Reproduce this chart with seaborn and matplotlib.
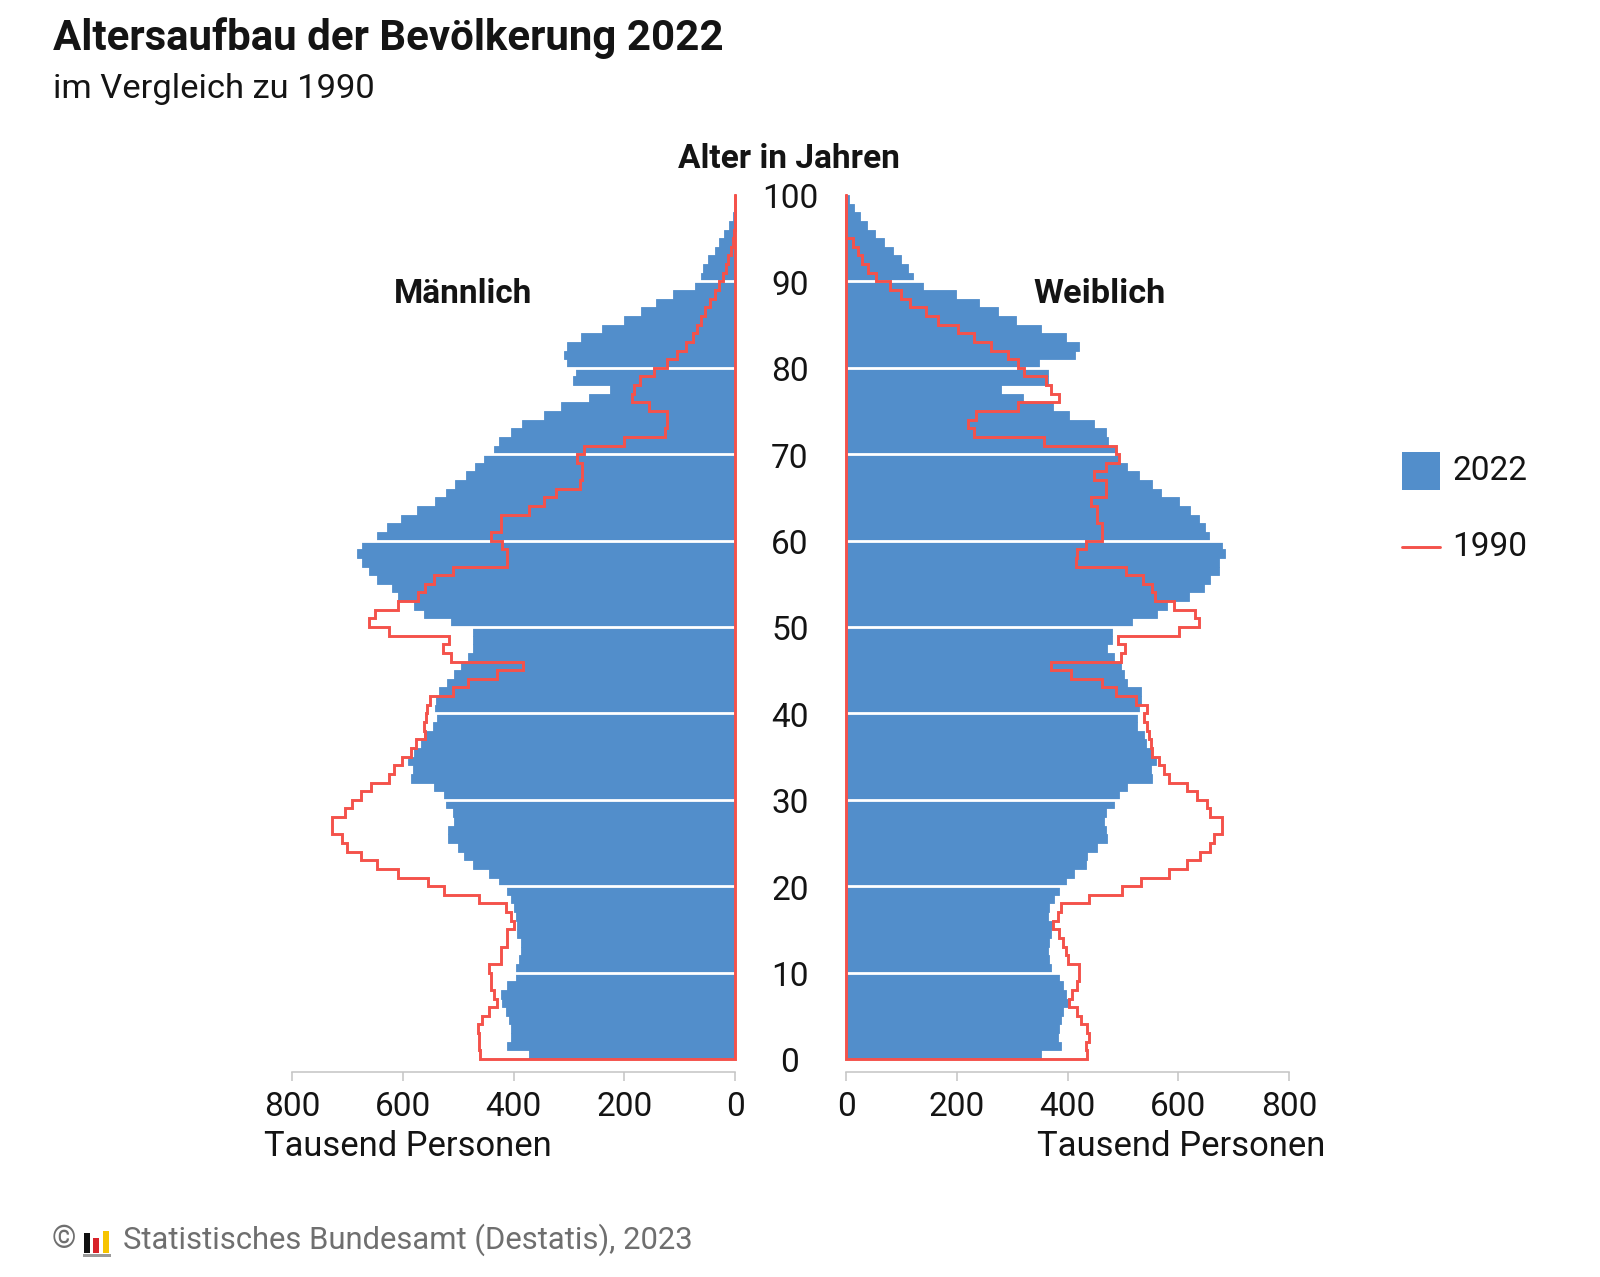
import numpy as np
import pandas as pd
import matplotlib
matplotlib.use("Agg")
import matplotlib.pyplot as plt
import matplotlib.transforms as mtransforms
from matplotlib.patches import Rectangle
from matplotlib.lines import Line2D
import seaborn as sns

# ---------------- data (thousand persons, ages 0..99) ----------------
ages = list(range(100))

male_2022 = [372, 411, 405, 405, 408, 414, 420, 423, 411, 396,
             396, 390, 387, 387, 393, 393, 396, 399, 405, 411,
             426, 444, 474, 489, 501, 519, 519, 508, 510, 522,
             525, 543, 585, 582, 591, 579, 567, 561, 546, 538,
             542, 540, 534, 520, 507, 495, 483, 474, 474, 474,
             513, 562, 579, 608, 620, 647, 661, 674, 683, 674,
             646, 628, 604, 575, 541, 522, 505, 485, 470, 453,
             435, 426, 405, 384, 345, 315, 264, 225, 292, 288,
             303, 308, 303, 279, 240, 200, 170, 142, 112, 73,
             61, 58, 49, 37, 28, 19, 10, 4, 2, 1]

male_1990 = [461, 462, 462, 465, 456, 444, 430, 435, 440, 440,
             444, 423, 423, 411, 411, 400, 405, 414, 462, 525,
             555, 609, 647, 675, 701, 710, 728, 728, 705, 692,
             675, 657, 624, 615, 601, 585, 576, 560, 561, 558,
             556, 550, 510, 483, 430, 382, 513, 527, 516, 624,
             661, 650, 609, 573, 559, 543, 510, 412, 412, 420,
             441, 423, 423, 372, 345, 324, 280, 276, 276, 285,
             273, 201, 126, 123, 123, 156, 186, 183, 171, 147,
             123, 105, 89, 76, 68, 62, 54, 46, 37, 28,
             22, 16, 13, 8, 4, 2, 0, 0, 0, 0]

female_2022 = [352, 388, 382, 385, 388, 391, 400, 397, 391, 385,
               370, 367, 364, 367, 370, 373, 364, 367, 376, 385,
               397, 412, 433, 436, 454, 472, 469, 466, 469, 484,
               493, 508, 553, 550, 559, 550, 541, 538, 526, 526,
               529, 532, 532, 508, 502, 496, 484, 472, 481, 481,
               517, 562, 580, 619, 646, 658, 673, 673, 685, 679,
               655, 649, 637, 622, 601, 568, 553, 530, 508, 493,
               487, 474, 469, 448, 402, 373, 320, 280, 364, 364,
               348, 414, 421, 397, 352, 307, 274, 240, 199, 139,
               121, 112, 100, 85, 68, 52, 38, 25, 14, 6]

female_1990 = [436, 433, 439, 436, 424, 418, 403, 409, 418, 420,
               421, 400, 397, 391, 385, 373, 382, 388, 439, 499,
               532, 583, 616, 640, 658, 664, 679, 679, 658, 652,
               634, 616, 583, 574, 565, 553, 550, 547, 544, 538,
               544, 523, 487, 463, 406, 370, 496, 504, 492, 601,
               637, 631, 592, 558, 552, 536, 505, 415, 418, 433,
               463, 463, 454, 454, 442, 469, 469, 448, 469, 493,
               487, 358, 232, 220, 235, 310, 385, 370, 361, 322,
               310, 292, 262, 232, 202, 166, 145, 115, 100, 79,
               55, 40, 28, 22, 13, 0, 0, 0, 0, 0]

x_ticks = [0, 200, 400, 600, 800]
x_tick_labels = ["0", "200", "400", "600", "800"]
age_ticks = [0, 10, 20, 30, 40, 50, 60, 70, 80, 90, 100]

title = "Altersaufbau der Bevölkerung 2022"
subtitle = "im Vergleich zu 1990"
source = "Statistisches Bundesamt (Destatis), 2023"

# ---------------- style ----------------
BLUE = "#528ecb"
RED = "#f4524b"
GRAY_AX = "#c4c4c4"
TXT = "#141414"

sns.set_theme(style="white")
plt.rcParams["font.family"] = ["Roboto", "DejaVu Sans"]

W, H = 1600, 1277
fig = plt.figure(figsize=(W / 100, H / 100), dpi=100)


def fx(x):
    return x / W


def fy(y):
    return 1 - y / H


AX_TOP, AX_BOT = 195, 1059
axL = fig.add_axes([fx(292), fy(AX_BOT), fx(735) - fx(292), fy(AX_TOP) - fy(AX_BOT)])
axR = fig.add_axes([fx(846), fy(AX_BOT), fx(1289) - fx(846), fy(AX_TOP) - fy(AX_BOT)])

df = pd.DataFrame({
    "age": ages,
    "center": np.array(ages) + 0.5,
    "m2022": male_2022,
    "m1990": male_1990,
    "f2022": female_2022,
    "f1990": female_1990,
})


def step_path(vals):
    xs, ys = [0, 0], [100, 0]
    for a, v in zip(ages, vals):
        xs += [v, v]
        ys += [a, a + 1]
    xs.append(0)
    ys.append(100)
    return xs, ys


for ax, col22, col90, xlim in [(axL, "m2022", "m1990", (800, 0)),
                                (axR, "f2022", "f1990", (0, 800))]:
    sns.barplot(data=df, x=col22, y="center", orient="y", native_scale=True,
                width=1.0, color=BLUE, saturation=1, errorbar=None,
                linewidth=0.6, edgecolor=BLUE, ax=ax, zorder=1)
    for k in age_ticks[1:-1]:
        ax.axhline(k, color="white", lw=2.0, zorder=2)
    xs, ys = step_path(df[col90].tolist())
    sns.lineplot(x=xs, y=ys, sort=False, estimator=None, color=RED,
                 linewidth=2.1, ax=ax, legend=False, zorder=3)
    for ln in ax.lines[-1:]:
        ln.set_clip_on(False)
        ln.set_solid_joinstyle("miter")
    ax.set_xlim(*xlim)
    ax.set_ylim(0, 100)
    ax.set_yticks([])
    ax.set_xlabel("")
    ax.set_ylabel("")
    ax.set_facecolor("none")
    for s in ["left", "right", "top"]:
        ax.spines[s].set_visible(False)
    ax.spines["bottom"].set_position(("outward", 9.4))
    ax.spines["bottom"].set_color(GRAY_AX)
    ax.spines["bottom"].set_linewidth(1.1)
    ax.set_xticks(x_ticks)
    ax.set_xticklabels(x_tick_labels)
    ax.tick_params(axis="x", bottom=True, direction="out", length=6.5,
                   width=1.1, color=GRAY_AX, labelsize=24, pad=7,
                   labelcolor=TXT)

# age labels in the middle
trans = mtransforms.blended_transform_factory(fig.transFigure, axR.transData)
for k in age_ticks:
    axR.text(fx(790), k - 0.5, str(k), transform=trans, ha="center", va="center",
             fontsize=24, color=TXT, clip_on=False)

renderer = fig.canvas.get_renderer()


def fit(t, width_px):
    w = t.get_window_extent(renderer).width
    t.set_fontsize(t.get_fontsize() * width_px / w)


def put(x, y, s, width=None, size=20, weight="normal", ha="left",
        color=TXT, va="center"):
    t = fig.text(fx(x), fy(y), s, fontsize=size, fontweight=weight,
                 ha=ha, va=va, color=color)
    if width:
        fit(t, width)
    return t


put(53, 38, title, width=669, size=30, weight="bold")
put(53, 89, subtitle, width=321, size=22)
put(789, 159, "Alter in Jahren", width=222, size=22, weight="bold", ha="center")
put(463, 294, "Männlich", width=138, size=22, weight="bold", ha="center")
put(1100, 294, "Weiblich", width=132, size=22, weight="bold", ha="center")
put(264, 1147, "Tausend Personen", width=287, size=24)
put(1325, 1147, "Tausend Personen", width=288, size=24, ha="right")

# legend
fig.add_artist(Rectangle((fx(1402), fy(490)), fx(38), 38 / H,
                         transform=fig.transFigure, color=BLUE, lw=0))
fig.add_artist(Line2D([fx(1402), fx(1440)], [fy(547), fy(547)],
                      transform=fig.transFigure, color=RED, lw=2.1))
put(1452, 471, "2022", width=75, size=24)
put(1452, 547, "1990", width=75, size=24)

# footer
FG = "#6f6f6f"
src = put(123, 1240, source, width=570, size=22, color=FG)
put(52, 1240, "©", size=src.get_fontsize(), color=FG)
for (x0, x1, top, c) in [(84, 90, 1233, "#111111"), (93, 99, 1238, "#d8232a"),
                         (103, 109, 1231, "#f6c400")]:
    fig.add_artist(Rectangle((fx(x0), fy(1253)), fx(x1 - x0), (1253 - top) / H,
                             transform=fig.transFigure, color=c, lw=0))
fig.add_artist(Rectangle((fx(83), fy(1257)), fx(28), 3 / H,
                         transform=fig.transFigure, color="#9a9a9a", lw=0))

fig.savefig("out.png", dpi=100, facecolor="white")
